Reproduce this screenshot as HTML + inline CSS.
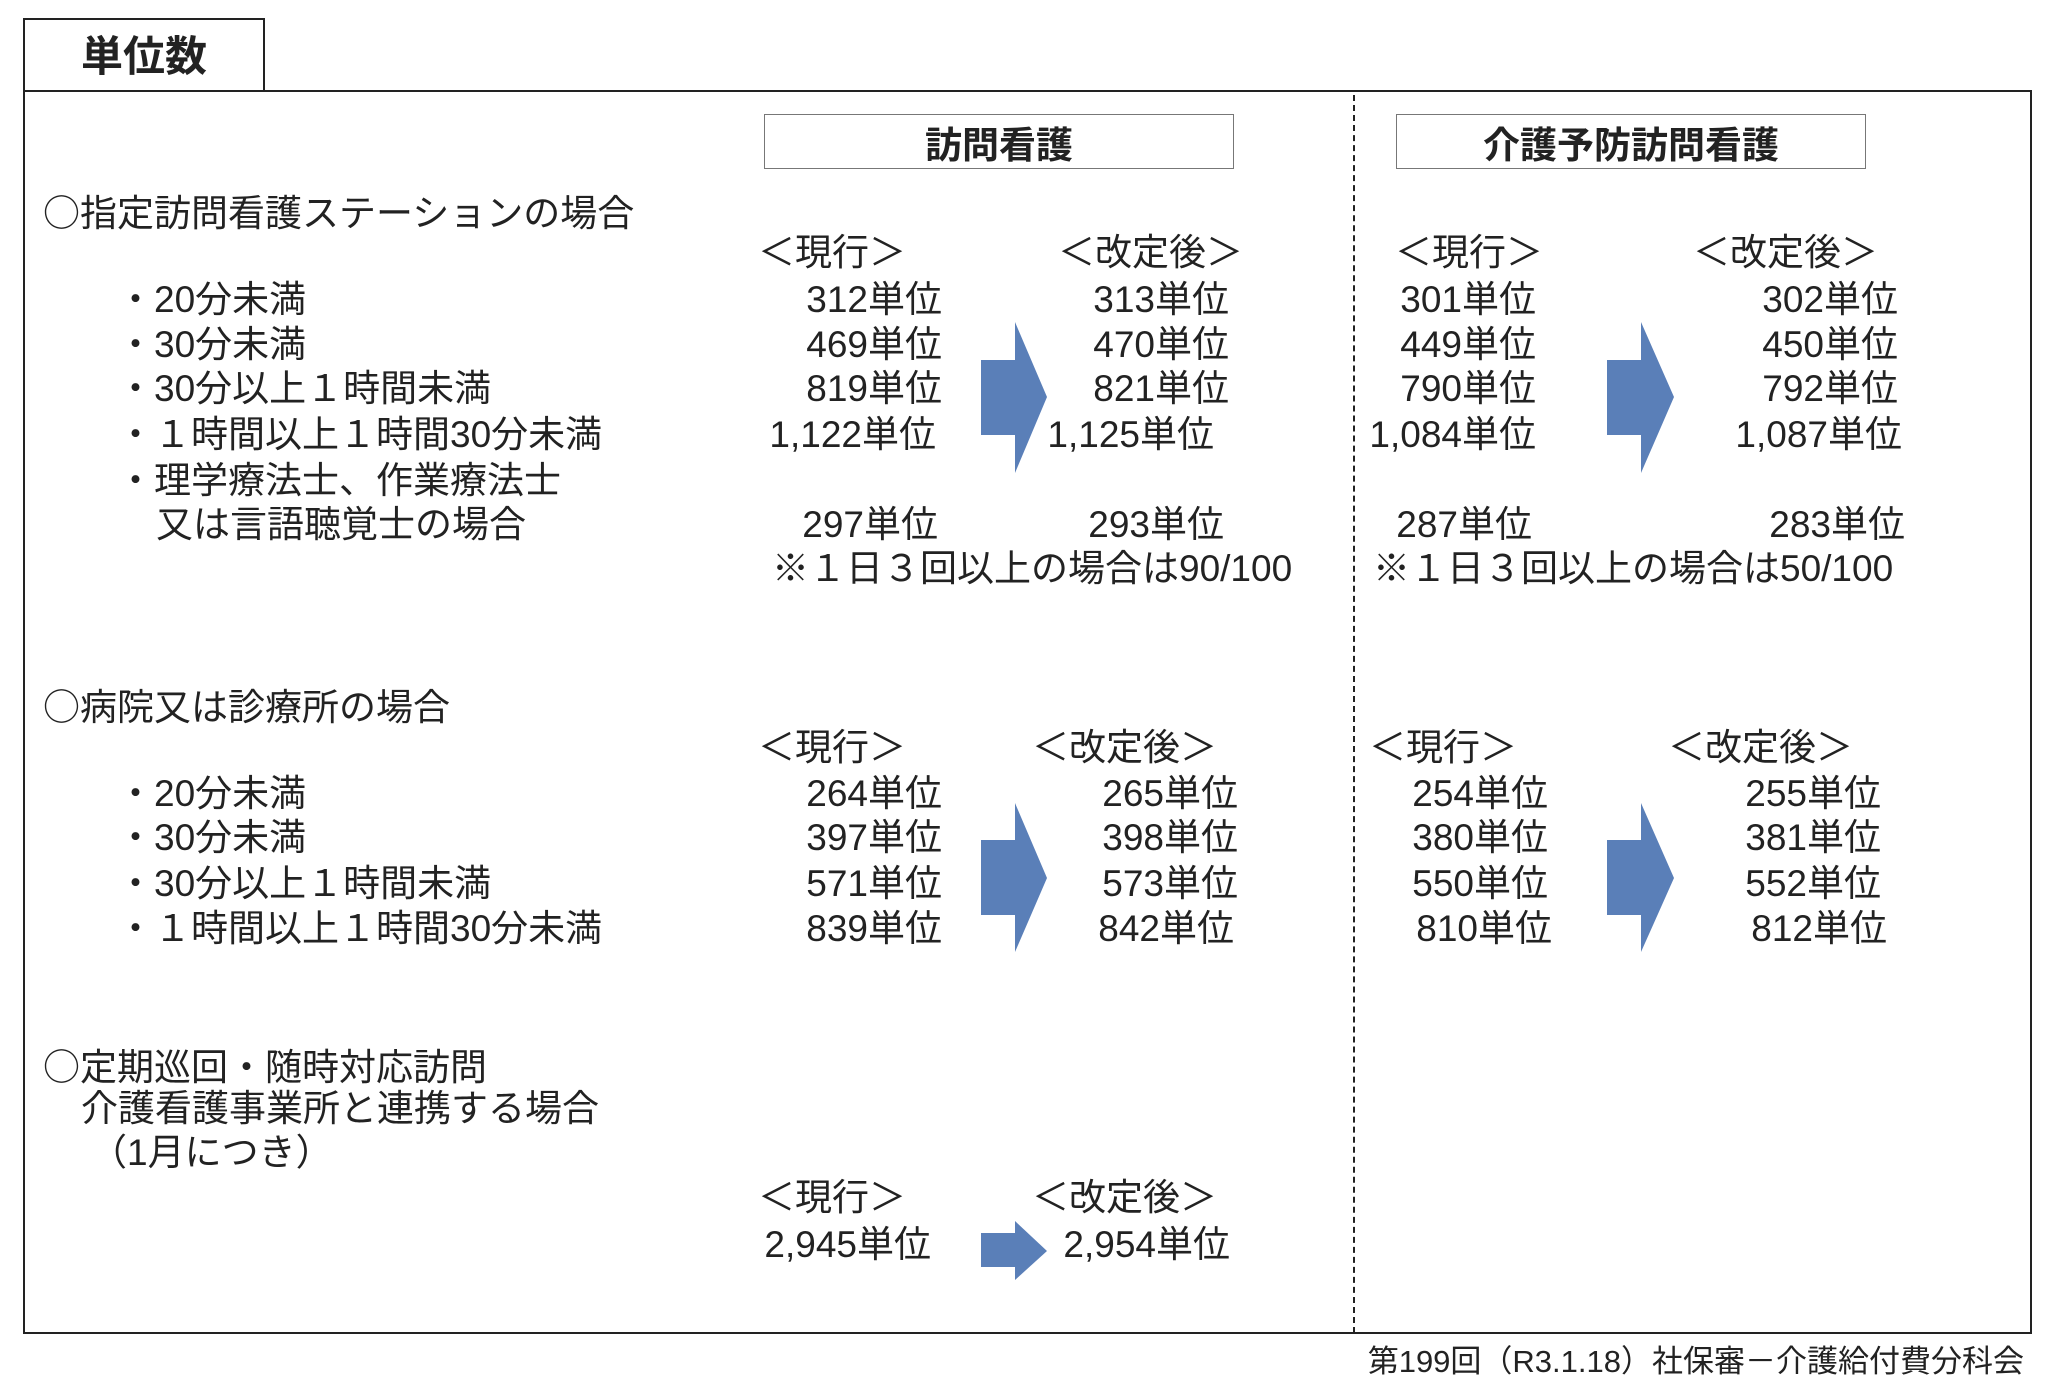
<!DOCTYPE html>
<html><head><meta charset="utf-8"><style>
body{margin:0;background:#fff;}
#c{position:relative;width:2048px;height:1388px;overflow:hidden;background:#fff;font-family:"Liberation Sans","Noto Sans CJK JP",sans-serif;color:#222;}
.t{position:absolute;white-space:nowrap;font-size:37px;line-height:44px;height:44px;}
.r{text-align:right;}
.b{position:absolute;box-sizing:border-box;}
.o{font-family:"Noto Sans CJK JP",sans-serif;}
</style></head><body><div id="c">
<div class="b" style="left:23px;top:90px;width:2009px;height:1244px;border:2px solid #222;"></div>
<div class="b" style="left:23px;top:18px;width:242px;height:74px;border:2px solid #222;background:#fff;"></div>
<div class="t" style="left:23px;width:242px;top:35px;text-align:center;font-size:42px;font-weight:bold;">単位数</div>
<div class="b" style="left:1353px;top:95px;width:0;height:1238px;border-left:2px dashed #222;"></div>
<div class="b" style="left:764px;top:114px;width:470px;height:55px;border:1.5px solid #777;"></div>
<div class="t" style="left:764px;width:470px;top:124px;text-align:center;font-weight:bold;font-size:37px;">訪問看護</div>
<div class="b" style="left:1396px;top:114px;width:470px;height:55px;border:1.5px solid #777;"></div>
<div class="t" style="left:1396px;width:470px;top:124px;text-align:center;font-weight:bold;font-size:37px;">介護予防訪問看護</div>

<svg class="b" style="left:0;top:0" width="2048" height="1388">
<g fill="#5a7fb8">
<polygon points="981,360 1015,360 1015,322 1047,397 1015,473 1015,435 981,435"/>
<polygon points="1607,360 1641,360 1641,322 1674,397 1641,473 1641,435 1607,435"/>
<polygon points="981,840 1015,840 1015,803 1047,878 1015,952 1015,915 981,915"/>
<polygon points="1607,840 1641,840 1641,803 1674,878 1641,952 1641,915 1607,915"/>
<polygon points="981,1233 1015,1233 1015,1221 1047,1251 1015,1280 1015,1267 981,1267"/>
</g></svg>

<div class="t" style="left:43px;top:188px;"><span class="o">○</span>指定訪問看護ステーションの場合</div>
<div class="t" style="left:117px;top:278px;">・20分未満</div>
<div class="t" style="left:117px;top:323px;">・30分未満</div>
<div class="t" style="left:117px;top:367px;">・30分以上１時間未満</div>
<div class="t" style="left:117px;top:413px;">・１時間以上１時間30分未満</div>
<div class="t" style="left:117px;top:459px;">・理学療法士、作業療法士</div>
<div class="t" style="left:156px;top:503px;">又は言語聴覚士の場合</div>

<div class="t" style="left:758px;top:231px;">＜現行＞</div>
<div class="t" style="left:1058px;top:231px;">＜改定後＞</div>
<div class="t r" style="right:1106px;top:278px;">312単位</div>
<div class="t r" style="right:1106px;top:323px;">469単位</div>
<div class="t r" style="right:1106px;top:367px;">819単位</div>
<div class="t r" style="right:1112px;top:413px;">1,122単位</div>
<div class="t r" style="right:1110px;top:503px;">297単位</div>
<div class="t r" style="right:819px;top:278px;">313単位</div>
<div class="t r" style="right:819px;top:323px;">470単位</div>
<div class="t r" style="right:819px;top:367px;">821単位</div>
<div class="t r" style="right:834px;top:413px;">1,125単位</div>
<div class="t r" style="right:824px;top:503px;">293単位</div>
<div class="t" style="left:772px;top:547px;">※１日３回以上の場合は90/100</div>

<div class="t" style="left:1395px;top:231px;">＜現行＞</div>
<div class="t" style="left:1693px;top:231px;">＜改定後＞</div>
<div class="t r" style="right:512px;top:278px;">301単位</div>
<div class="t r" style="right:512px;top:323px;">449単位</div>
<div class="t r" style="right:512px;top:367px;">790単位</div>
<div class="t r" style="right:512px;top:413px;">1,084単位</div>
<div class="t r" style="right:516px;top:503px;">287単位</div>
<div class="t r" style="right:150px;top:278px;">302単位</div>
<div class="t r" style="right:150px;top:323px;">450単位</div>
<div class="t r" style="right:150px;top:367px;">792単位</div>
<div class="t r" style="right:146px;top:413px;">1,087単位</div>
<div class="t r" style="right:143px;top:503px;">283単位</div>
<div class="t" style="left:1373px;top:547px;">※１日３回以上の場合は50/100</div>

<div class="t" style="left:43px;top:682px;"><span class="o">○</span>病院又は診療所の場合</div>
<div class="t" style="left:117px;top:772px;">・20分未満</div>
<div class="t" style="left:117px;top:816px;">・30分未満</div>
<div class="t" style="left:117px;top:862px;">・30分以上１時間未満</div>
<div class="t" style="left:117px;top:907px;">・１時間以上１時間30分未満</div>
<div class="t" style="left:758px;top:726px;">＜現行＞</div>
<div class="t" style="left:1032px;top:726px;">＜改定後＞</div>
<div class="t r" style="right:1106px;top:772px;">264単位</div>
<div class="t r" style="right:1106px;top:816px;">397単位</div>
<div class="t r" style="right:1106px;top:862px;">571単位</div>
<div class="t r" style="right:1106px;top:907px;">839単位</div>
<div class="t r" style="right:810px;top:772px;">265単位</div>
<div class="t r" style="right:810px;top:816px;">398単位</div>
<div class="t r" style="right:810px;top:862px;">573単位</div>
<div class="t r" style="right:814px;top:907px;">842単位</div>
<div class="t" style="left:1369px;top:726px;">＜現行＞</div>
<div class="t" style="left:1668px;top:726px;">＜改定後＞</div>
<div class="t r" style="right:500px;top:772px;">254単位</div>
<div class="t r" style="right:500px;top:816px;">380単位</div>
<div class="t r" style="right:500px;top:862px;">550単位</div>
<div class="t r" style="right:496px;top:907px;">810単位</div>
<div class="t r" style="right:167px;top:772px;">255単位</div>
<div class="t r" style="right:167px;top:816px;">381単位</div>
<div class="t r" style="right:167px;top:862px;">552単位</div>
<div class="t r" style="right:161px;top:907px;">812単位</div>

<div class="t" style="left:43px;top:1042px;"><span class="o">○</span>定期巡回・随時対応訪問</div>
<div class="t" style="left:81px;top:1087px;">介護看護事業所と連携する場合</div>
<div class="t" style="left:90px;top:1131px;">（1月につき）</div>
<div class="t" style="left:758px;top:1176px;">＜現行＞</div>
<div class="t" style="left:1032px;top:1176px;">＜改定後＞</div>
<div class="t r" style="right:1117px;top:1223px;">2,945単位</div>
<div class="t r" style="right:818px;top:1223px;">2,954単位</div>

<div class="t r" style="right:24px;top:1342px;font-size:31px;line-height:40px;">第199回（R3.1.18）社保審－介護給付費分科会</div>
</div></body></html>
